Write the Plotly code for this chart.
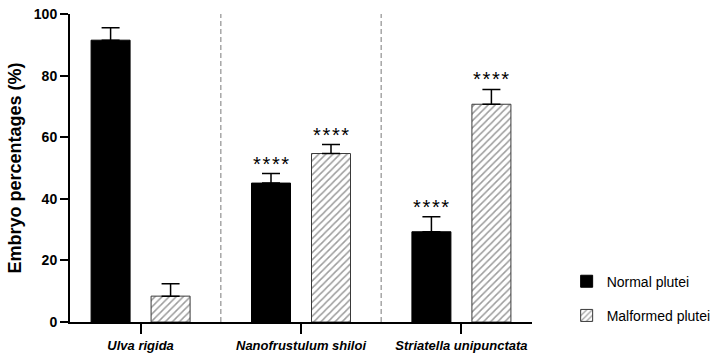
import plotly.graph_objects as go

categories = ["Ulva rigida", "Nanofrustulum shiloi", "Striatella unipunctata"]
normal_vals = [91.5, 45.1, 29.3]
normal_err = [4.0, 3.1, 4.9]
malformed_vals = [8.4, 54.7, 70.7]
malformed_err = [4.0, 2.9, 4.8]
normal_sig = ["", "****", "****"]
malformed_sig = ["", "****", "****"]
y_ticks = [0, 20, 40, 60, 80, 100]

FONT = "Arial, Liberation Sans, sans-serif"
BARGAP = 0.252
BARGROUPGAP = 0.35

tick_text = [f"<b><i>{c}</i></b>" for c in categories]

fig = go.Figure()
fig.add_trace(go.Bar(
    x=categories, y=normal_vals, name="Normal plutei", legendgroup="a",
    marker=dict(color="black", line=dict(color="black", width=1)),
    error_y=dict(type="data", array=normal_err, arrayminus=[0]*len(normal_err),
                 symmetric=False, color="black", thickness=1.5, width=9),
))
fig.add_trace(go.Bar(
    x=categories, y=malformed_vals, name="Malformed plutei", legendgroup="b",
    marker=dict(color="white", line=dict(color="#3a3a3a", width=1),
                pattern=dict(shape="/", fgcolor="#3a3a3a", bgcolor="white",
                             size=5, solidity=0.3)),
    error_y=dict(type="data", array=malformed_err, arrayminus=[0]*len(malformed_err),
                 symmetric=False, color="black", thickness=1.5, width=9),
))

# category separators
for i in range(len(categories) - 1):
    fig.add_shape(type="line", xref="x", yref="y", x0=i + 0.5, x1=i + 0.5,
                  y0=0, y1=max(y_ticks),
                  line=dict(color="#a6a6a6", width=1.5, dash="5px,3px"), layer="below")

# significance marks
off = (1 - BARGAP) / 4
for i, c in enumerate(categories):
    for sig, v, e, sgn in ((normal_sig[i], normal_vals[i], normal_err[i], -1),
                           (malformed_sig[i], malformed_vals[i], malformed_err[i], 1)):
        if sig:
            fig.add_annotation(x=i + sgn * off, y=v + e, xref="x", yref="y",
                               text="\u200a".join(sig), showarrow=False,
                               yanchor="bottom", yshift=-3,
                               font=dict(family=FONT, size=20, color="black"))

fig.update_layout(
    width=721, height=356,
    margin=dict(l=70, r=189, t=14, b=34, autoexpand=False),
    paper_bgcolor="white", plot_bgcolor="white",
    barmode="group", bargap=BARGAP, bargroupgap=BARGROUPGAP,
    font=dict(family=FONT, color="black"),
    showlegend=True,
    legend=dict(x=1.075, xanchor="left", y=0.183, yanchor="top",
                font=dict(family=FONT, size=14, color="black"),
                traceorder="grouped", tracegroupgap=13,
                bgcolor="rgba(0,0,0,0)"),
)

fig.update_xaxes(
    range=[-0.44, len(categories) - 1 + 0.44],
    tickmode="array", tickvals=categories, ticktext=tick_text,
    showline=True, linecolor="black", linewidth=2,
    ticks="outside", ticklen=10, tickwidth=2, tickcolor="black",
    tickfont=dict(family=FONT, size=13, color="black"),
    showgrid=False, zeroline=False, automargin=False,
)
fig.update_yaxes(
    range=[0, 100], tickvals=y_ticks,
    ticktext=[f"<b>{t}</b>" for t in y_ticks],
    showline=True, linecolor="black", linewidth=2,
    ticks="outside", ticklen=8, tickwidth=2, tickcolor="black",
    tickfont=dict(family=FONT, size=14, color="black"),
    showgrid=False, zeroline=False, automargin=False,
    title=dict(text="<b>Embryo percentages (%)</b>",
               font=dict(family=FONT, size=18, color="black"), standoff=8),
)

fig.write_html("out.html", config={"displayModeBar": False},
               post_script="document.body.style.margin='0';document.body.style.padding='0';")
